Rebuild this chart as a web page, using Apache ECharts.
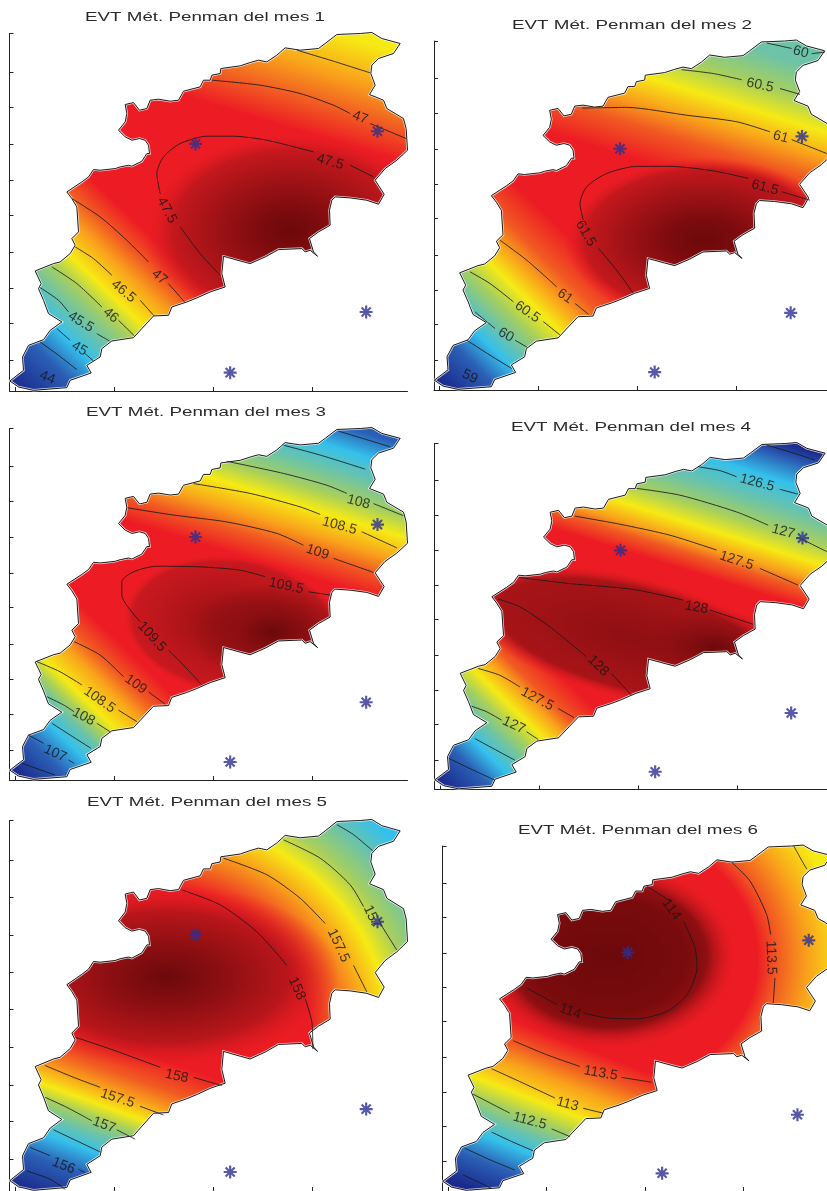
<!DOCTYPE html>
<html><head><meta charset="utf-8"><title>EVT Método Penman</title>
<script src="https://cdn.jsdelivr.net/npm/echarts@6/dist/echarts.min.js"></script>
<style>html,body{margin:0;padding:0;background:#fff}#c{width:827px;height:1191px}</style></head>
<body><div id="c"></div>
<script>
// ---------- shared geography (data units) ----------
const boundarySouth = [[642,404],[637,352],[647,312],[602,297],[562,279],[532,267],[487,252],[477,227],[432,225],[372,160],[307,150],[277,127],[272,102],[232,77],[245,54],[182,32],[172,10],[72,2],[27,12],[1,30],[42,62],[39,102],[57,137],[102,154],[122,182],[157,207],[117,232],[102,272],[87,307],[95,322],[77,360],[132,382],[152,387],[182,412]];
const boundaryNorth = [[197,437],[187,457],[207,477],[202,552],[187,577],[172,597],[217,627],[237,642],[252,664],[272,662],[317,667],[332,672],[357,677],[367,674],[397,689],[412,712],[420,712],[417,737],[407,752],[390,757],[367,752],[347,762],[327,782],[347,807],[352,832],[347,859],[372,865],[390,842],[412,847],[422,872],[447,875],[482,869],[507,872],[522,899],[572,912],[582,932],[602,932],[607,947],[632,952],[634,967],[692,975],[722,985],[747,992],[772,987],[802,1007],[827,1029],[872,1022],[927,1027],[947,1042],[982,1069],[1052,1072],[1087,1075],[1117,1057],[1172,1042],[1152,1012],[1107,997],[1087,977],[1084,952],[1097,917],[1080,889],[1122,872],[1132,847],[1182,817],[1190,787],[1194,722],[1162,692],[1127,667],[1097,632],[1124,590],[1107,560],[1072,572],[1022,579],[977,582],[967,572],[960,542],[962,497],[927,477],[900,457],[912,417],[924,404],[902,422],[887,417],[877,427],[807,424],[767,402],[722,382],[692,390]];
const stations = [[558,741],[1104,779],[1070,237],[662,55]];
const xTicks = [17,314,610,907];
const yTicks = [92,202,307,415,527,632,740,850,957,1072];
const titles = ['EVT Mét. Penman del mes 1','EVT Mét. Penman del mes 2','EVT Mét. Penman del mes 3','EVT Mét. Penman del mes 4','EVT Mét. Penman del mes 5','EVT Mét. Penman del mes 6'];

// ---------- contour lines per month: [level, points]; a null point is the gap left for a label ----------
const contoursMes1 = [
 ['47',[[187,577],[272,522],[352,452],[417,387],null,[477,322],[527,265]]],
 ['46.5',[[197,432],[252,397],[307,347],null,[392,272],[434,225]]],
 ['46',[[127,372],[202,322],[277,252],null,[327,212],[375,165]]],
 ['45.5',[[92,310],[147,272],[177,237],null,[262,172],[300,150]]],
 ['45',[[142,187],[182,152],null,[227,112],[252,90]]],
 ['44.5',[[92,147],[147,107],[202,64]]],
 ['47',[[607,932],[752,917],[872,892],[972,857],[1022,832],null,[1082,802],[1190,757]]],
 ['46.5',[[862,1022],[962,992],[1082,954]]],
 ['47.5',[[632,347],[572,412],[512,492],null,[452,592],[442,652],[462,702],[512,742],[592,764],[672,764],[772,752],[912,717],null,[1022,677],[1092,642]]]
];
const contoursMes2 = [
 ['60',[[998,1066],[1073,1049],null,[1133,1033],[1173,1038]]],
 ['60.5',[[743,984],[838,972],[923,953],null,[1038,926],[1098,908]]],
 ['61',[[445,866],[578,868],[758,844],[908,824],[1008,793],null,[1073,769],[1179,726]]],
 ['61.5',[[598,297],[548,368],[493,435],null,[448,522],[438,573],[458,624],[518,665],[608,687],[708,687],[838,673],[943,650],null,[1043,609],[1128,583]]],
 ['61',[[198,460],[278,399],[368,317],null,[423,266],[463,233]]],
 ['60.5',[[108,363],[168,327],[238,271],null,[328,210],[378,169]]],
 ['60',[[123,240],[158,210],[183,189],null,[243,153],[280,131]]],
 ['59.5',[[98,153],[168,107],[233,66]]]
];
const contoursMes3 = [
 ['107',[[987,1064],[1062,1041],[1142,1016]]],
 ['107.5',[[822,1021],[932,991],[1067,948]]],
 ['108',[[652,972],[822,935],[952,899],[1012,874],null,[1092,843],[1182,806]]],
 ['108.5',[[552,904],[722,874],[872,833],[932,810],null,[1057,757],[1162,708]]],
 ['109',[[354,830],[492,808],[652,787],[802,752],[882,716],null,[972,676],[1092,633]]],
 ['109.5',[[577,290],[512,361],[477,396],null,[392,483],[337,564],[337,605],[372,635],[442,652],[572,650],[692,640],[767,620],null,[897,574],[962,564]]],
 ['109',[[194,422],[272,381],[342,315],null,[417,269],[467,231]]],
 ['108.5',[[82,361],[152,330],[217,290],null,[327,213],[382,178]]],
 ['108',[[112,254],[162,229],[194,208],null,[262,173],[302,147]]],
 ['107.5',[[127,173],[182,137],[244,97]]],
 ['107',[[57,137],[102,112],null,[177,61],[194,51]]],
 ['106.5',[[37,51],[137,15]]]
];
const contoursMes4 = [
 ['126',[[996,1067],[1066,1046],[1141,1021]]],
 ['126.5',[[791,1000],[856,988],[906,969],null,[1036,930],[1091,915]]],
 ['127',[[606,933],[736,912],[906,860],[1001,819],null,[1091,781],[1177,737]]],
 ['127.5',[[421,847],[556,822],[706,788],[846,742],null,[976,685],[1091,633]]],
 ['128',[[254,657],[406,638],[596,620],[746,587],null,[826,556],[956,512]]],
 ['128',[[191,590],[256,566],[346,504],[456,411],null,[531,359],[591,292]]],
 ['127.5',[[131,375],[196,354],[256,318],null,[371,251],[418,223]]],
 ['127',[[111,258],[156,241],[201,215],null,[276,179],[311,155]]],
 ['126.5',[[121,158],[176,127],[241,91]]],
 ['126',[[44,96],[106,65],[181,29]]]
];
const contoursMes5 = [
 ['156.5',[[982,1060],[1032,1031],[1090,984]]],
 ['157',[[822,1016],[932,963],[1022,886],[1062,823],null,[1112,774],[1162,697]]],
 ['157.5',[[642,963],[772,915],[872,847],[947,774],null,[1032,653],[1072,576]]],
 ['158',[[517,871],[632,828],[742,750],[832,653],null,[887,557],[907,489],[910,411]]],
 ['158',[[197,445],[302,411],[452,358],null,[552,329],[637,305]]],
 ['157.5',[[107,363],[192,329],[272,300],null,[392,245],[462,220]]],
 ['157',[[107,271],[172,242],[247,203],null,[322,177],[377,150]]],
 ['156.5',[[132,177],[202,145],[272,113]]],
 ['156',[[62,126],[122,102],null,[207,63],[227,53]]],
 ['155.5',[[52,58],[122,34],[167,5]]]
];
const contoursMes6 = [
 ['113',[[1059,1072],[1078,1036],[1098,1000]]],
 ['113.5',[[871,1022],[927,963],[977,859],[989,797],null,[1002,662],[997,584]]],
 ['114',[[615,948],[686,901],null,[726,839],[761,756],[767,693],[737,610],[677,558],[585,535],[495,538],[425,553],null,[345,579],[254,631]]],
 ['113.5',[[213,467],[313,424],[414,387],null,[540,353],[630,338]]],
 ['113',[[148,380],[233,340],[339,289],null,[424,257],[484,242]]],
 ['112.5',[[92,301],[163,263],[203,242],null,[329,193],[384,169]]],
 ['112',[[148,183],[208,154],[273,125]]],
 ['111.5',[[67,133],[143,97],[218,65]]],
 ['111',[[62,50],[148,8]]]
];
const allContours = [contoursMes1,contoursMes2,contoursMes3,contoursMes4,contoursMes5,contoursMes6];

// ---------- inline contour labels: [x, y, text, angle] ----------
const labelsMes1 = [[472,542,'47.5',-62],[962,687,'47.5',-15],[1052,820,'47',-20],[450,342,'47',-40],[342,299,'46.5',-40],[304,227,'46',-40],[214,207,'45.5',-32],[210,127,'45',-30],[114,40,'44',-22]];
const labelsMes2 = [[1100,1038,'60',-15],[978,936,'60.5',-12],[1040,777,'61',-15],[993,622,'61.5',-15],[455,481,'61.5',-60],[393,288,'61',-35],[280,240,'60.5',-35],[216,169,'60',-30],[108,41,'59',-25]];
const labelsMes3 = [[1047,848,'108',-15],[990,775,'108.5',-15],[924,695,'109',-18],[830,592,'109.5',-12],[427,437,'109.5',-48],[379,292,'109',-35],[270,244,'108.5',-35],[222,193,'108',-28],[137,81,'107',-25]];
const labelsMes4 = [[968,950,'126.5',-15],[1046,799,'127',-15],[906,709,'127.5',-18],[786,564,'128',-10],[491,383,'128',-45],[308,280,'127.5',-28],[238,199,'127',-25]];
const labelsMes5 = [[1087,794,'157',-65],[987,710,'157.5',-65],[862,586,'158',-65],[502,332,'158',-12],[324,268,'157.5',-18],[284,191,'157',-20],[162,73,'156',-22]];
const labelsMes6 = [[690,875,'114',-55],[990,725,'113.5',-88],[385,558,'114',-20],[477,366,'113.5',-10],[377,270,'113',-15],[263,218,'112.5',-15]];
const allLabels = [labelsMes1,labelsMes2,labelsMes3,labelsMes4,labelsMes5,labelsMes6];

// ---------- styling ----------
const N='#1b2a8c',B='#2b5fb5',C='#35c0ec',T='#6cc3a8',G='#a6cf5e',Y='#f6ea14',O='#f9a11b',H='#f15a22',R='#ed1c24',R0='rgba(237,28,36,0)',D0='#6c090b',D1='#8e0f12',D2='#b9161b';
const SW=[0.69,0.72], NE=[0.29,0.957], SWF=[0.35,0.937];
const fills = [
 [{dir:SW,stops:[[20,N],[150,B],[233,C],[300,T],[365,G],[420,Y],[500,O],[560,H],[630,R],[650,R0]]},
  {dir:NE,stops:[[950,R0],[1000,R],[1090,H],[1190,O],[1310,Y]]},
  {c:[840,480],rx:440,ry:300,rot:0,stops:[[0,D0],[.2,'#7c0b0d'],[.5,'#9e1216'],[.8,'#c4181d'],[1,R0]]}],
 [{dir:SW,stops:[[30,N],[140,B],[215,C],[270,T],[330,G],[395,Y],[460,O],[520,H],[620,R],[640,R0]]},
  {dir:NE,stops:[[780,R0],[860,R],[960,H],[1030,O],[1110,Y],[1190,G],[1290,T]]},
  {c:[810,460],rx:420,ry:255,rot:0,stops:[[0,D0],[.25,'#7c0b0d'],[.55,'#9e1216'],[.85,'#c4181d'],[1,R0]]}],
 [{dir:SW,stops:[[30,N],[130,B],[205,C],[260,T],[295,G],[335,Y],[410,O],[460,H],[530,R],[550,R0]]},
  {dir:NE,stops:[[820,R0],[860,R],[930,H],[985,O],[1060,Y],[1120,G],[1190,T],[1260,C],[1330,B]]},
  {c:[670,470],rx:335,ry:215,rot:-8,stops:[[0,D1],[.6,D2],[.9,'#c8191f'],[1,R0]]},
  {c:[790,450],rx:240,ry:150,rot:0,stops:[[0,D0],[.45,D1],[1,'rgba(142,15,18,0)']]}],
 [{dir:SW,stops:[[30,N],[125,B],[190,C],[245,T],[295,G],[345,Y],[400,O],[440,H],[520,R],[540,R0]]},
  {dir:NE,stops:[[830,R0],[880,R],[930,H],[965,O],[1020,Y],[1080,G],[1150,T],[1230,C],[1300,B],[1345,N]]},
  {c:[590,470],rx:520,ry:195,rot:-14,stops:[[0,D1],[.8,'#a81418'],[1,R0]]},
  {c:[840,440],rx:220,ry:120,rot:-5,stops:[[0,D0],[1,'rgba(142,15,18,0)']]}],
 [{dir:SWF,stops:[[20,N],[120,B],[190,C],[240,T],[285,G],[325,Y],[375,O],[430,H],[510,R],[530,R0]]},
  {north:true,c:[400,450],rx:510,ry:440,rot:0,span:2,stops:[[.85,R0],[.98,R],[1.12,H],[1.28,O],[1.45,Y],[1.6,G],[1.78,T],[1.95,C]]},
  {c:[470,620],rx:520,ry:270,rot:0,stops:[[0,D0],[.35,D1],[.7,D2],[1,R0]]}],
 [{dir:SWF,stops:[[40,N],[130,B],[205,C],[260,T],[310,G],[365,Y],[395,'#f9c81a'],[445,O],[505,H],[570,R],[590,R0]]},
  {north:true,c:[500,720],rx:500,ry:450,rot:0,span:2,stops:[[.85,R0],[.9,R],[1.02,H],[1.2,O],[1.42,Y],[1.6,Y]]},
  {c:[500,730],rx:395,ry:295,rot:0,stops:[[0,D0],[.6,'#7a0b0d'],[.75,D1],[1,R0]]}]
];
// grid boxes in page pixels, each with the x value at the right edge of its box (right panels run off the page)
const boxes = [[9.5,33.5,398,357.5],[434,41,393,349],[9.5,428.5,398,351.5],[434.5,443.5,392.5,346],[9.5,820.5,398,370.5],[442.5,846,384.5,345]];
const xMax = [1194,1179,1194,1177.5,1194,1159];
const titlePos = [[205,17],[632,25],[206,412],[631,427],[207,802],[638,830]];

const asterisk='path://M10 0H14V24H10ZM0 10H24V14H0ZM2.2 5L5 2.2L21.8 19L19 21.8ZM19 2.2L21.8 5L5 21.8L2.2 19Z';

const grid=[],xAxis=[],yAxis=[],series=[],graphic=[];
const fullBoundary = boundarySouth.concat(boundaryNorth);
const northPart = boundaryNorth.concat([boundarySouth[0]]);

function renderPanel(p){
 return function(params,api){
  const kids=[];
  const toPx=a=>a.map(q=>api.coord(q));
  const full=toPx(fullBoundary), north=toPx(northPart);
  kids.push({type:'polygon',shape:{points:full},style:{fill:R}});
  fills[p].forEach(l=>{
    if(l.dir){
      const s=l.stops,a=s[0][0],b=s[s.length-1][0];
      const p0=api.coord([l.dir[0]*a,l.dir[1]*a]),p1=api.coord([l.dir[0]*b,l.dir[1]*b]);
      kids.push({type:'polygon',shape:{points:full},style:{fill:{type:'linear',global:true,x:p0[0],y:p0[1],x2:p1[0],y2:p1[1],
        colorStops:s.map(v=>({offset:(v[0]-a)/(b-a),color:v[1]}))}}});
    }else{
      const c=api.coord(l.c),sz=api.size([l.rx,l.ry]),rx=sz[0],ry=sz[1],th=l.rot*Math.PI/180,cs=Math.cos(th),sn=Math.sin(th),span=l.span||1;
      const pts=(l.north?north:full).map(q=>{const dx=q[0]-c[0],dy=q[1]-c[1];return [(cs*dx-sn*dy)/rx,(sn*dx+cs*dy)/ry];});
      kids.push({type:'polygon',x:c[0],y:c[1],rotation:th,scaleX:rx,scaleY:ry,shape:{points:pts},style:{fill:{type:'radial',global:true,x:0,y:0,r:span,
        colorStops:l.stops.map(v=>({offset:v[0]/span,color:v[1]}))}}});
    }
  });
  kids.push({type:'polygon',shape:{points:full},style:{fill:'none',stroke:'rgba(255,255,255,0.75)',lineWidth:2.5}});
  kids.push({type:'polygon',shape:{points:full},style:{fill:'none',stroke:'#1c1c1c',lineWidth:1}});
  return {type:'group',children:kids};
 };
}

titles.forEach((t,p)=>{
 const b=boxes[p];
 grid.push({left:b[0],top:b[1],width:b[2],height:b[3],containLabel:false});
 xAxis.push({type:'value',gridIndex:p,min:0,max:xMax[p],axisLine:{onZero:false,lineStyle:{color:'#222',width:1}},axisTick:{inside:true,length:4,customValues:xTicks,lineStyle:{color:'#222'}},axisLabel:{show:false},splitLine:{show:false}});
 yAxis.push({type:'value',gridIndex:p,min:0,max:1072,axisLine:{onZero:false,lineStyle:{color:'#222',width:1}},axisTick:{inside:true,length:4,customValues:yTicks,lineStyle:{color:'#222'}},axisLabel:{show:false},splitLine:{show:false}});
 series.push({type:'custom',xAxisIndex:p,yAxisIndex:p,coordinateSystem:'cartesian2d',silent:true,clip:false,z:1,data:[[0,0]],renderItem:renderPanel(p)});
 allContours[p].forEach(ct=>{
  series.push({type:'line',name:'Mes '+(p+1)+' '+ct[0],xAxisIndex:p,yAxisIndex:p,z:2,silent:true,showSymbol:false,smooth:0.25,connectNulls:false,clip:false,
   lineStyle:{color:'#1a1a1a',width:1,opacity:0.85},data:ct[1].map(q=>q===null?[null,null]:q)});
 });
 series.push({type:'scatter',xAxisIndex:p,yAxisIndex:p,z:3,silent:true,symbolSize:0,clip:false,
  data:allLabels[p].map(l=>({value:[l[0],l[1]],label:{show:true,position:'inside',rotate:l[3],formatter:l[2],fontFamily:'Liberation Sans',fontSize:14,color:'#161616'}}))});
 series.push({type:'scatter',xAxisIndex:p,yAxisIndex:p,z:4,silent:true,symbol:asterisk,symbolSize:13,clip:false,itemStyle:{color:'#2c2f92'},data:stations});
 graphic.push({type:'text',x:titlePos[p][0],y:titlePos[p][1],scaleX:1.39,style:{text:t,fontFamily:'Liberation Sans',fontSize:13.5,fill:'#2a2a2a',align:'center',verticalAlign:'middle'}});
});

const chart=echarts.init(document.getElementById('c'),null,{renderer:'canvas',width:827,height:1191});
chart.setOption({animation:false,backgroundColor:'#ffffff',grid,xAxis,yAxis,series,graphic,tooltip:{show:false}});
</script></body></html>
